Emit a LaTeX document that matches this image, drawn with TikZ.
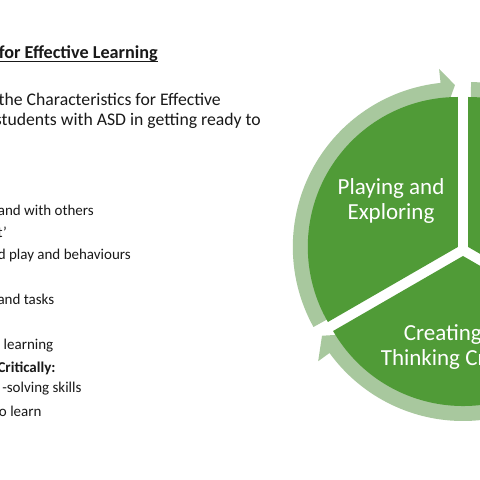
\documentclass[tikz,border=0pt]{standalone}
\usepackage{fontspec}
\setmainfont{Carlito}
\definecolor{pieg}{RGB}{80,155,55}
\definecolor{arcg}{RGB}{168,200,158}
\definecolor{txt}{RGB}{25,25,25}
\begin{document}
\begin{tikzpicture}[x=1pt,y=1pt,
  body/.style={anchor=base east, text=txt, inner sep=0pt, font=\fontsize{15}{18}\selectfont},
  bodyb/.style={body, font=\fontsize{15}{18}\selectfont\bfseries},
  intro/.style={body, font=\fontsize{17.7}{20}\selectfont},
  titlet/.style={body, font=\fontsize{18.2}{22}\selectfont\bfseries},
  segtext/.style={text=white, align=center, inner sep=0pt, font=\fontsize{23}{25}\selectfont},
  piece/.style={fill=pieg},
  band/.style={fill=arcg}]
\useasboundingbox (0,0) rectangle (480,480);
\clip (0,0) rectangle (480,480);
\fill[white] (0,0) rectangle (480,480);

% segment centres (exploded pie)
\coordinate (cL) at (457.8,233);
\coordinate (cR) at (468.2,233);
\coordinate (cB) at (463,224);

% curved arrows (behind the pie)
\fill[band] ([shift={(cL)}]209:165) arc[start angle=209,end angle=96,radius=165]
  -- ([shift={(cL)}]96:179) -- ([shift={(cL)}]91:162) -- ([shift={(cL)}]96:132)
  -- ([shift={(cL)}]96:146) arc[start angle=96,end angle=209,radius=146] -- cycle;
\fill[band] ([shift={(cR)}]89:165) arc[start angle=89,end angle=-24,radius=165]
  -- ([shift={(cR)}]-24:179) -- ([shift={(cR)}]-29:162) -- ([shift={(cR)}]-24:132)
  -- ([shift={(cR)}]-24:146) arc[start angle=-24,end angle=89,radius=146] -- cycle;
\fill[band] ([shift={(cB)}]329:165) arc[start angle=329,end angle=216,radius=165]
  -- ([shift={(cB)}]216:179) -- ([shift={(cB)}]209.5:162) -- ([shift={(cB)}]216:132)
  -- ([shift={(cB)}]216:146) arc[start angle=216,end angle=329,radius=146] -- cycle;

% pie segments
\fill[piece] (cL) -- ++(90:150) arc[start angle=90,end angle=210,radius=150] -- cycle;
\fill[piece] (cR) -- ++(90:150) arc[start angle=90,end angle=-30,radius=150] -- cycle;
\fill[piece] (cB) -- ++(210:150) arc[start angle=210,end angle=330,radius=150] -- cycle;

\node[segtext] (pe) at (391,279) {Playing and\\Exploring};
\node[segtext] (ct) at (463,133.5) {Creating and\\Thinking Critically};

% left text
\node[titlet] (title) at (158,421.7) {for Effective Learning};
\draw[txt, line width=1.1pt] (0,418.3) -- (158,418.3);
\node[intro] (l1) at (221,374) {the Characteristics for Effective};
\node[intro] (l2) at (261,354) {students with ASD in getting ready to};
\node[body] (l3) at (94,264) {and with others};
\node[body] (l4) at (7,242) {t’};
\node[body] (l5) at (131,220) {d play and behaviours};
\node[body] (l6) at (54.5,175) {and tasks};
\node[body] (l7) at (53.5,130) {learning};
\node[bodyb] (l8) at (55.7,107.3) {Critically:};
\node[body] (l9) at (81.7,87) {-solving skills};
\node[body] (l10) at (41.7,63.3) {o learn};
\end{tikzpicture}
\end{document}
